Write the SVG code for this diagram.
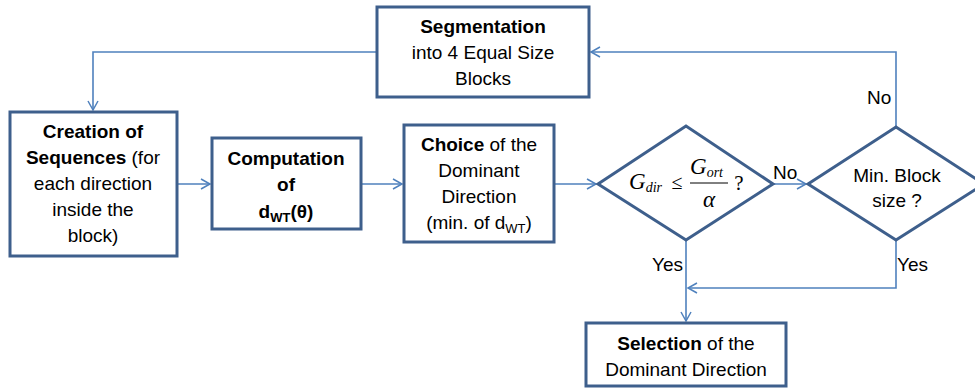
<svg xmlns="http://www.w3.org/2000/svg" width="975" height="388" viewBox="0 0 975 388">
<defs>
<marker id="arr" markerWidth="12" markerHeight="12" refX="10" refY="6" orient="auto" markerUnits="userSpaceOnUse">
<path d="M1,1 L10,6 L1,11" fill="none" stroke="#4F81BD" stroke-width="1.5"/>
</marker>
<style>
.box{fill:#fff;stroke:#3E5F8C;stroke-width:3}
.con{fill:none;stroke:#4F81BD;stroke-width:1.6}
text{font-family:"Liberation Sans",Arial,sans-serif;font-size:19px;fill:#000;text-anchor:middle}
.b{font-weight:bold}
.m{font-family:"Liberation Serif","Times New Roman",serif;font-style:italic}
.lbl{text-anchor:start}
</style>
</defs>
<rect width="975" height="388" fill="#fff"/>
<g id="connectors">
<path class="con" d="M377,52 H93 V110" marker-end="url(#arr)"/>
<path class="con" d="M896,127 V52 H591" marker-end="url(#arr)"/>
<path class="con" d="M177,184 H210" marker-end="url(#arr)"/>
<path class="con" d="M361,184 H402" marker-end="url(#arr)"/>
<path class="con" d="M554,184 H596" marker-end="url(#arr)"/>
<path class="con" d="M773,184 H806" marker-end="url(#arr)"/>
<path class="con" d="M686,240 V321" marker-end="url(#arr)"/>
<path class="con" d="M896,240 V288 H688" marker-end="url(#arr)"/>
<text class="lbl" x="867" y="104">No</text>
<text class="lbl" x="773" y="179">No</text>
<text class="lbl" x="652" y="271">Yes</text>
<text class="lbl" x="897" y="271">Yes</text>
</g>
<g id="segmentation">
<rect class="box" x="377" y="7" width="212" height="90"/>
<text x="483" y="33" class="b">Segmentation</text>
<text x="483" y="59">into 4 Equal Size</text>
<text x="483" y="85">Blocks</text>
</g>
<g id="creation">
<rect class="box" x="10" y="112" width="167" height="144"/>
<text x="93" y="138"><tspan class="b">Creation of</tspan></text>
<text x="93" y="164"><tspan class="b">Sequences</tspan> (for</text>
<text x="93" y="190">each direction</text>
<text x="93" y="216">inside the</text>
<text x="93" y="242">block)</text>
</g>
<g id="computation">
<rect class="box" x="212" y="138" width="149" height="91"/>
<text x="286" y="165" class="b">Computation</text>
<text x="286" y="191" class="b">of</text>
<text x="286" y="218" class="b">d<tspan font-size="13" dy="4">WT</tspan><tspan dy="-4">(θ)</tspan></text>
</g>
<g id="choice">
<rect class="box" x="404" y="125" width="150" height="117"/>
<text x="479" y="151"><tspan class="b">Choice</tspan> of the</text>
<text x="479" y="177">Dominant</text>
<text x="479" y="203">Direction</text>
<text x="479" y="229">(min. of d<tspan font-size="13" dy="4">WT</tspan><tspan dy="-4">)</tspan></text>
</g>
<g id="decision1">
<polygon class="box" points="598,184 686,126 773,184 686,240"/>
<text x="629" y="189" class="m" style="text-anchor:start;font-size:23px">G<tspan font-size="14" dy="3">dir</tspan></text>
<text x="677" y="189" style="font-family:'Liberation Serif',serif;font-size:20px">≤</text>
<text x="690" y="174" class="m" style="text-anchor:start;font-size:23px">G<tspan font-size="14" dy="3">ort</tspan></text>
<line x1="690" y1="183" x2="728" y2="183" stroke="#000" stroke-width="1"/>
<text x="709" y="207" class="m" style="font-size:23px">α</text>
<text x="739" y="190" style="font-family:'Liberation Serif',serif;font-size:21px">?</text>
</g>
<g id="decision2">
<polygon class="box" points="808,184 896,127 984,184 896,240"/>
<text x="897" y="182">Min. Block</text>
<text x="897" y="207">size ?</text>
</g>
<g id="selection">
<rect class="box" x="586" y="323" width="200" height="63"/>
<text x="686" y="350"><tspan class="b">Selection</tspan> of the</text>
<text x="686" y="376">Dominant Direction</text>
</g>
</svg>
